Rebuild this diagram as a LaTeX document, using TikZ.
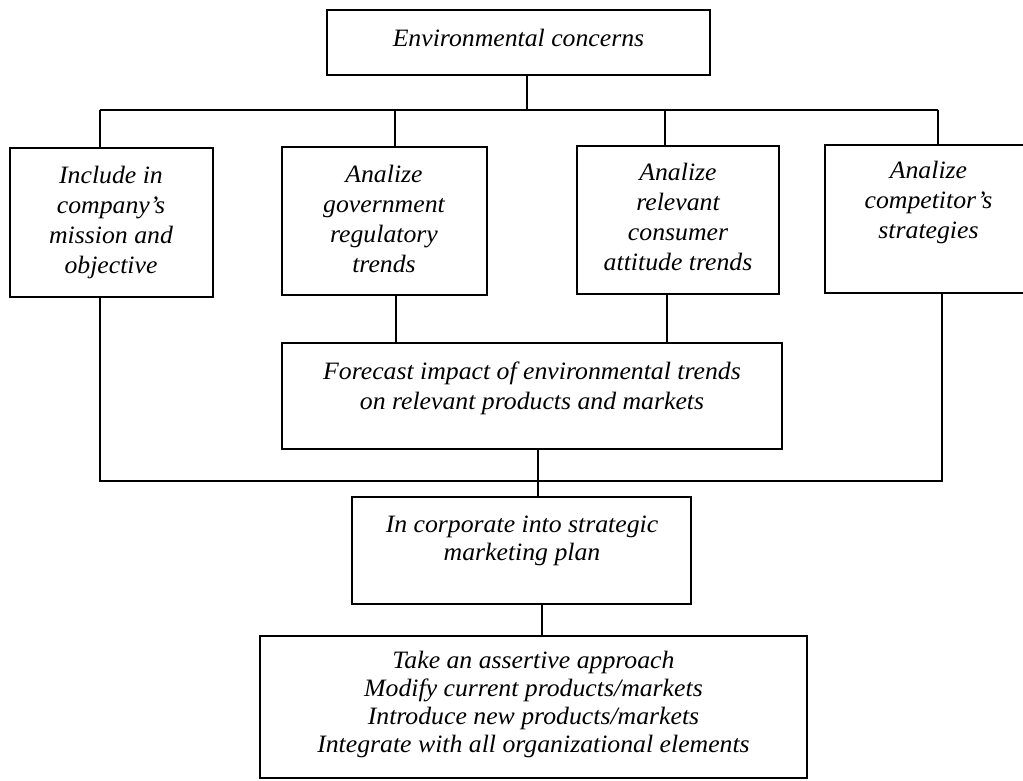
\documentclass[tikz,border=0pt]{standalone}
\usepackage{fontspec}
\setmainfont{Liberation Serif}[FakeStretch=1.03]
\begin{document}
\begin{tikzpicture}[x=1pt,y=-1pt,
  boxnode/.style={draw, line width=1.6pt, inner sep=0pt, rectangle},
  txt/.style={font=\fontsize{25}{30}\selectfont\itshape, align=center, inner sep=0pt, anchor=north},
  txtb/.style={font=\fontsize{25}{28}\selectfont\itshape, align=center, inner sep=0pt, anchor=north},
  link/.style={line width=1.6pt}]
\useasboundingbox (0,0) rectangle (1023,781);

% boxes
\node[boxnode, minimum width=383pt, minimum height=65pt]  (T)  at (518.5,42.5) {};
\node[boxnode, minimum width=203pt, minimum height=149pt] (B1) at (111.5,222.5) {};
\node[boxnode, minimum width=205pt, minimum height=148pt] (B2) at (384.5,221) {};
\node[boxnode, minimum width=202pt, minimum height=148pt] (B3) at (678,220) {};
\node[boxnode, minimum width=207pt, minimum height=148pt] (B4) at (928.5,219) {};
\node[boxnode, minimum width=500pt, minimum height=106pt] (M)  at (532,396) {};
\node[boxnode, minimum width=339pt, minimum height=107pt] (I)  at (521.5,550.5) {};
\node[boxnode, minimum width=547pt, minimum height=142pt] (Bt) at (533.5,707) {};

% texts
\node[txt, anchor=base] (tT) at (518.5,47) {Environmental concerns};
\node[txt] (t1) at (111,166) {Include in\\company’s\\mission and\\objective};
\node[txt] (t2) at (384,165) {Analize\\government\\regulatory\\trends};
\node[txt] (t3) at (678,163) {Analize\\relevant\\consumer\\attitude trends};
\node[txt] (t4) at (928.5,161) {Analize\\competitor’s\\strategies};
\node[txt] (tM) at (532,362) {Forecast impact of environmental trends\\on relevant products and markets};
\node[txtb] (tI) at (522,516) {In corporate into strategic\\marketing plan};
\node[txtb] (tB) at (533.5,651) {Take an assertive approach\\Modify current products/markets\\Introduce new products/markets\\Integrate with all organizational elements};

% junction coordinates
\coordinate (j0) at (527,110);
\coordinate (hl) at (100,110);
\coordinate (hr) at (938,110);
\coordinate (x2) at (395,110);
\coordinate (x3) at (665,110);
\coordinate (ll) at (100,481);
\coordinate (lr) at (942,481);
\coordinate (mc) at (538,481);
\coordinate (bc) at (542,481);

% connectors
\draw[link] (j0 |- T.south) -- (j0);
\draw[link] (hl) -- (hr);
\draw[link] (hl) -- (hl |- B1.north);
\draw[link] (x2) -- (x2 |- B2.north);
\draw[link] (x3) -- (x3 |- B3.north);
\draw[link] (hr) -- (hr |- B4.north);
\draw[link] (396,0 |- B2.south) -- (396,0 |- M.north);
\draw[link] (667,0 |- B3.south) -- (667,0 |- M.north);
\draw[link] (ll |- B1.south) -- (ll) -- (lr) -- (lr |- B4.south);
\draw[link] (mc |- M.south) -- (mc |- I.north);
\draw[link] (bc |- I.south) -- (bc |- Bt.north);
\end{tikzpicture}
\end{document}
